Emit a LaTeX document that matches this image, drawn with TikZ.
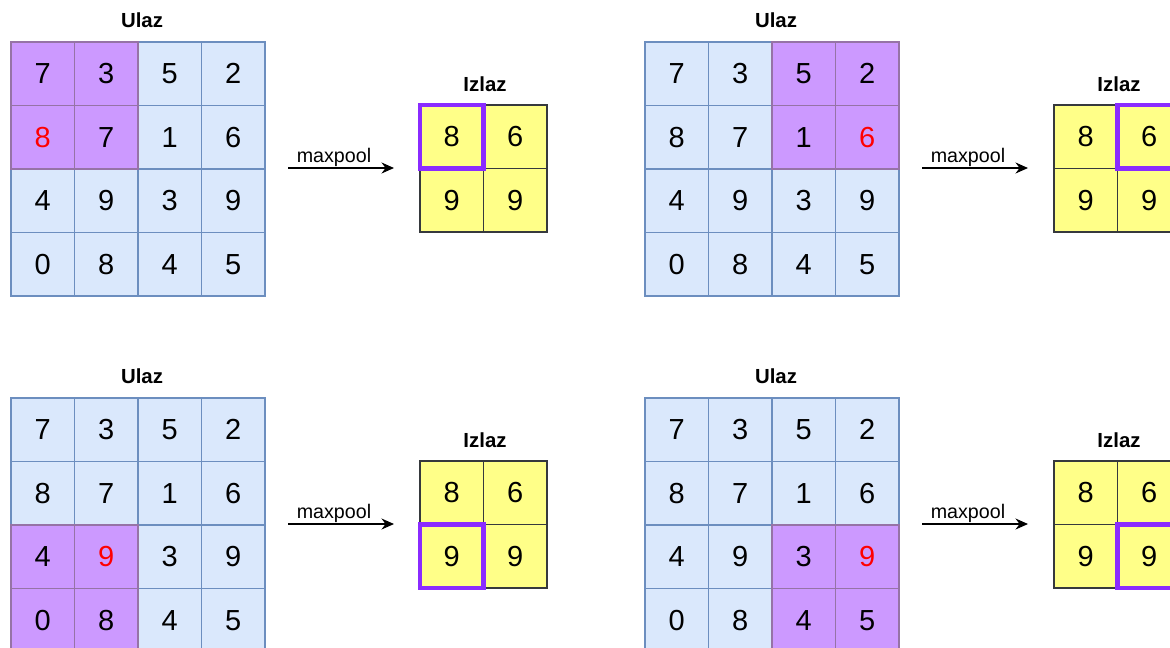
\documentclass[tikz,border=0pt]{standalone}
\usepackage{fontspec}
\setmainfont{Liberation Sans}
\usetikzlibrary{arrows.meta}
\definecolor{cellfill}{HTML}{DAE8FC}
\definecolor{celldraw}{HTML}{6C8EBF}
\definecolor{hfill}{HTML}{CC99FF}
\definecolor{hdraw}{HTML}{9673A6}
\definecolor{ofill}{HTML}{FFFF88}
\definecolor{odraw}{HTML}{36393D}
\definecolor{hlviolet}{HTML}{8A2BFF}
\tikzset{
  cell/.style={draw=celldraw, fill=cellfill, minimum size=1.27cm, inner sep=0pt, outer sep=0pt,
    line width=0.8pt, font=\fontsize{16.5}{18}\selectfont},
  hcell/.style={cell, draw=hdraw, fill=hfill},
  ocell/.style={cell, draw=odraw, fill=ofill},
  title/.style={font=\fontsize{11.6}{13}\selectfont\bfseries, inner sep=0pt},
  hlbox/.style={draw=hlviolet, line width=2.4pt},
  arrowline/.style={-{Stealth[length=0.25cm,width=0.22cm]}, line width=0.8pt},
  arrowlabel/.style={font=\fontsize{11.2}{13}\selectfont, above, inner sep=0.6pt, xshift=-4}
}
% #1 name, #2 ox, #3 oy, #4 block row, #5 block col, #6 red row, #7 red col, #8 out row, #9 out col
\newcommand{\drawpanel}[9]{%
  \begin{scope}[shift={(#2,#3)}]
    \node[title] (#1-ti) at (142,20) {Ulaz};
    \foreach \v [count=\k from 0] in {7,3,5,2,8,7,1,6,4,9,3,9,0,8,4,5} {
      \pgfmathtruncatemacro\r{int(\k/4)}
      \pgfmathtruncatemacro\c{mod(\k,4)}
      \pgfmathtruncatemacro\inb{(int(\r/2)==#4)&&(int(\c/2)==#5)}
      \ifnum\inb=0
        \node[cell] (#1-c\r\c) at ({11+63.5*(\c+0.5)},{42+63.5*(\r+0.5)}) {\v};
      \fi
    }
    \foreach \v [count=\k from 0] in {7,3,5,2,8,7,1,6,4,9,3,9,0,8,4,5} {
      \pgfmathtruncatemacro\r{int(\k/4)}
      \pgfmathtruncatemacro\c{mod(\k,4)}
      \pgfmathtruncatemacro\inb{(int(\r/2)==#4)&&(int(\c/2)==#5)}
      \pgfmathtruncatemacro\isred{(\r==#6)&&(\c==#7)}
      \ifnum\inb=1
        \ifnum\isred=1
          \node[hcell, text=red] (#1-c\r\c) at ({11+63.5*(\c+0.5)},{42+63.5*(\r+0.5)}) {\v};
        \else
          \node[hcell] (#1-c\r\c) at ({11+63.5*(\c+0.5)},{42+63.5*(\r+0.5)}) {\v};
        \fi
      \fi
    }
    \node[title] (#1-to) at (485,84) {Izlaz};
    \foreach \v [count=\k from 0] in {8,6,9,9} {
      \pgfmathtruncatemacro\r{int(\k/2)}
      \pgfmathtruncatemacro\c{mod(\k,2)}
      \node[ocell] (#1-o\r\c) at ({420+63.5*(\c+0.5)},{105+63.5*(\r+0.5)}) {\v};
    }
    \draw[hlbox] (#1-o#8#9.north west) rectangle (#1-o#8#9.south east);
    \coordinate (#1-a1) at (288,168);
    \coordinate (#1-a2) at (394,168);
    \draw[arrowline] (#1-a1) -- node[arrowlabel] (#1-lab) {maxpool} (#1-a2);
  \end{scope}%
}
\begin{document}
\begin{tikzpicture}[x=0.02cm, y=-0.02cm]
  \clip (0,0) rectangle (1170,647);
  \fill[white] (0,0) rectangle (1170,647);
  \drawpanel{p1}{0}{0}{0}{0}{1}{0}{0}{0}
  \drawpanel{p2}{634}{0}{0}{1}{1}{3}{0}{1}
  \drawpanel{p3}{0}{356}{1}{0}{2}{1}{1}{0}
  \drawpanel{p4}{634}{356}{1}{1}{2}{3}{1}{1}
\end{tikzpicture}
\end{document}
